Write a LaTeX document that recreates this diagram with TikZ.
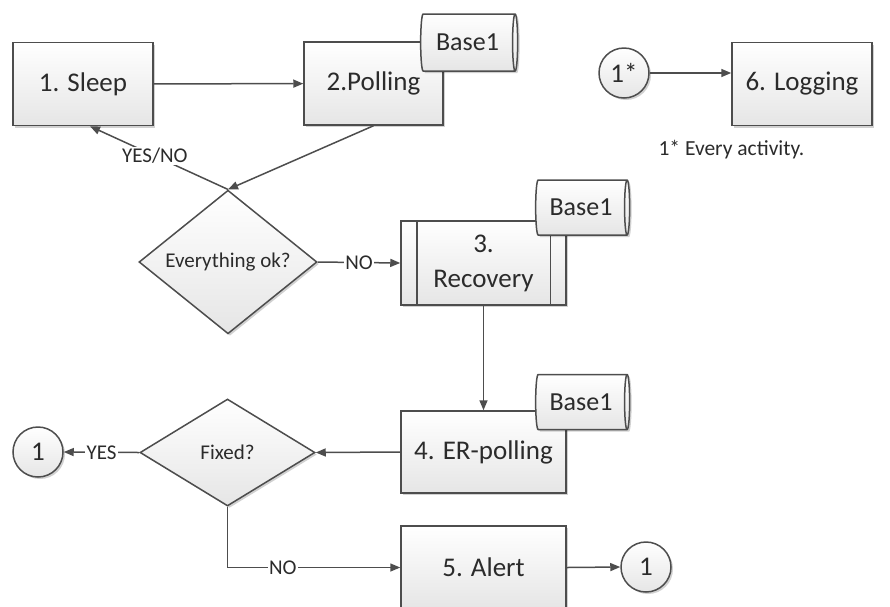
\documentclass[tikz,border=0pt]{standalone}
\usepackage{fontspec}
\setmainfont{Carlito}
\usetikzlibrary{shapes.geometric,arrows.meta,shadows,calc}
\definecolor{ink}{HTML}{2B2B2B}
\definecolor{edge}{HTML}{4D4D4D}
\begin{document}
\begin{tikzpicture}[x=1pt,y=-1pt,
  every node/.style={text=ink},
  soft/.style={top color=white,bottom color=black!10,
    drop shadow={shadow xshift=2pt,shadow yshift=-2pt,opacity=0.18,fill=black}},
  box/.style={rectangle,draw=edge,line width=1.5pt,soft,inner sep=0pt,
    minimum width=140pt,minimum height=83pt,align=center,
    font=\fontsize{27}{35}\selectfont},
  decision/.style={diamond,draw=edge,line width=1.5pt,soft,inner sep=0pt,
    font=\fontsize{21}{24}\selectfont},
  store/.style={cylinder,draw=edge,line width=1.5pt,soft,shape aspect=0.3,
    inner sep=0pt,minimum height=99pt,minimum width=57pt,
    font=\fontsize{26}{30}\selectfont},
  connector/.style={circle,draw=edge,line width=1.5pt,soft,inner sep=0pt,
    minimum size=50pt,font=\fontsize{27}{30}\selectfont},
  arr/.style={draw=edge,line width=1.5pt,-{Triangle[length=10pt,width=8pt]}},
  lbl/.style={fill=white,inner sep=1.5pt,font=\fontsize{21}{24}\selectfont},
]
\useasboundingbox (0,0) rectangle (890,606);

% processes
\node[box] (sleep) at (83,84) {1. Sleep};
\node[box,minimum width=139pt] (poll) at (373.5,83.5) {2.Polling};
\node[store,minimum height=97pt] (polldb) at (467.5,42.5) {Base1};

\node[decision,minimum width=178pt,minimum height=108pt] (ok) at (228,262) {Everything ok?};

\node[box,minimum width=165pt,minimum height=84pt] (rec) at (483.5,263) {3.\\Recovery};
\draw[draw=edge,line width=1.5pt]
  ([xshift=16.5pt]rec.north west) -- ([xshift=16.5pt]rec.south west)
  ([xshift=-16.5pt]rec.north east) -- ([xshift=-16.5pt]rec.south east);
\node[store,minimum height=94pt,minimum width=55pt] (recdb) at (581,207.5) {Base1};

\node[box,minimum width=165pt,minimum height=82pt] (er) at (483.5,452) {4. ER-polling};
\node[store,minimum height=94pt,minimum width=55pt] (erdb) at (581,402) {Base1};

\node[decision,minimum width=175pt,minimum height=107pt] (fixed) at (227.5,452.5) {Fixed?};
\node[connector] (endl) at (38,452) {1};

\node[box,minimum width=165pt] (alert) at (483.5,567.5) {5. Alert};
\node[connector] (endr) at (646,567) {1};

\node[connector] (every) at (624,73) {1*};
\node[box] (log) at (802,84) {6. Logging};
\node[anchor=west,font=\fontsize{21.5}{24}\selectfont] (note) at (655,150) {1* Every activity.};

% flow
\draw[arr] (sleep) -- (poll);
\draw[arr] (poll.south) -- (ok.north);
\draw[arr] (ok.north) -- node[lbl,pos=0.53]{YES/NO} ([xshift=7pt]sleep.south);
\draw[arr] (ok.east) -- node[lbl]{NO} (rec.west);
\draw[arr] (rec.south) -- (er.north);
\draw[arr] (er.west) -- (fixed.east);
\draw[arr] (fixed.west) -- node[lbl]{YES} (endl.east);
\draw[arr] (fixed.south) |- node[lbl,pos=0.66]{NO} (alert.west);
\draw[arr] (alert.east) -- (endr.west);
\draw[arr] (every.east) -- (every.east -| log.west);
\end{tikzpicture}
\end{document}
